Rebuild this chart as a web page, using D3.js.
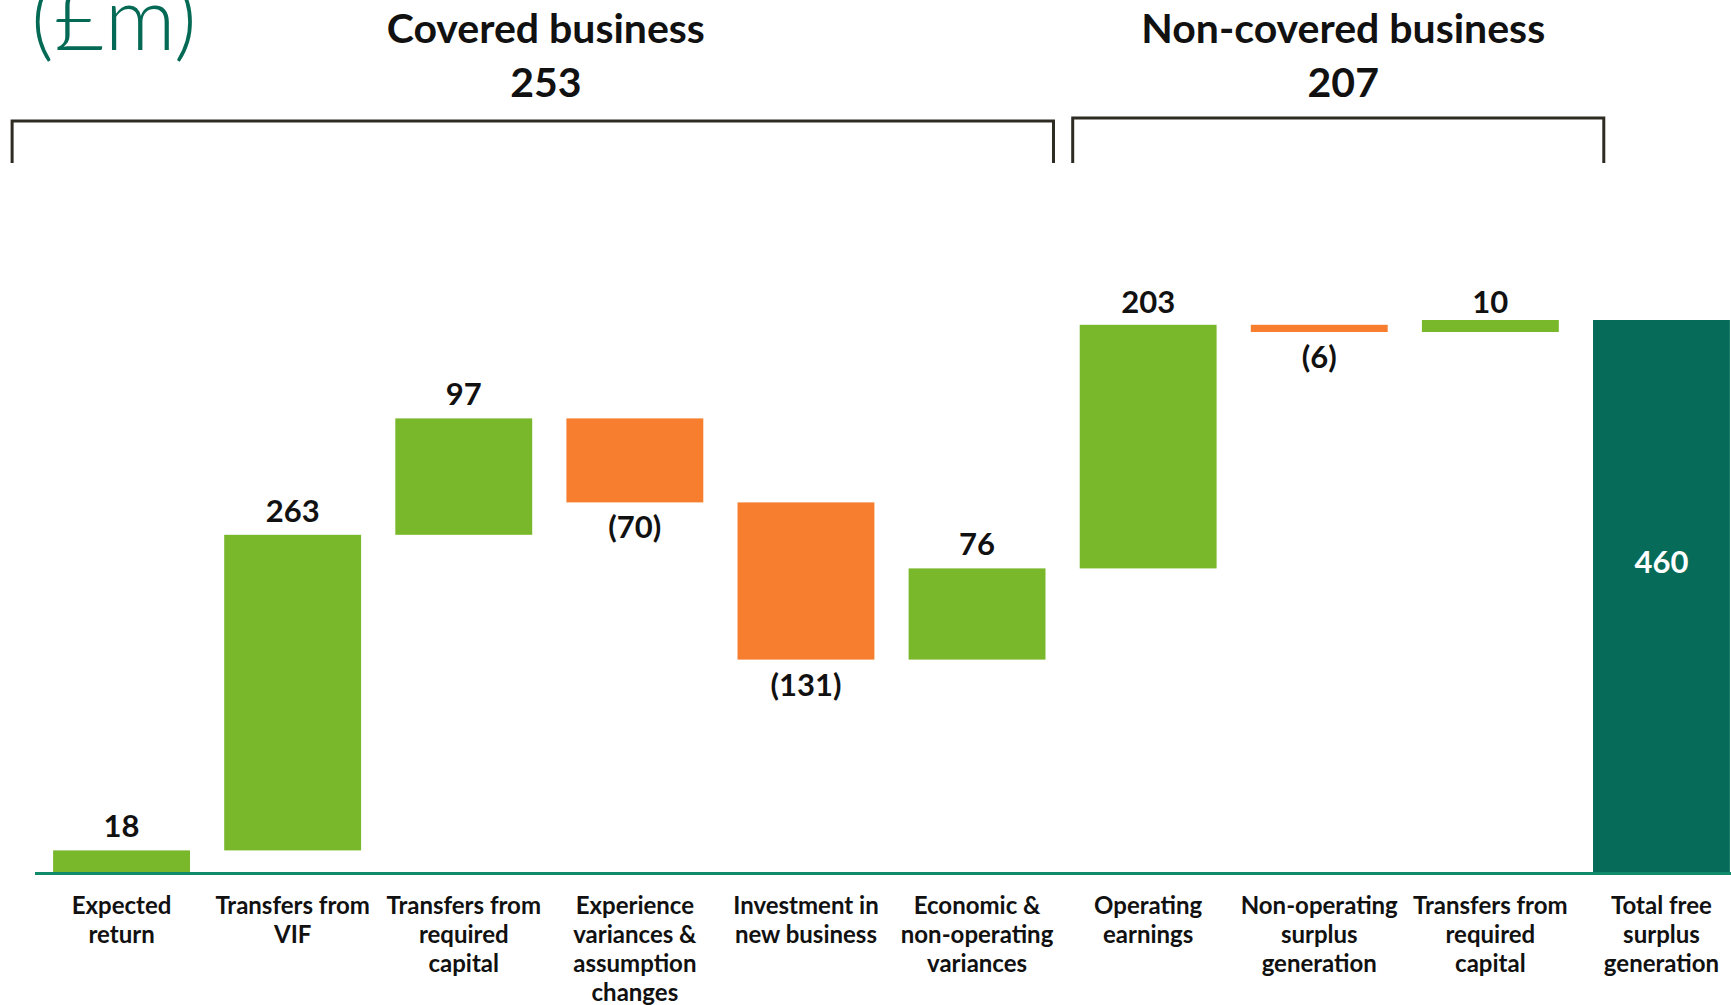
<!DOCTYPE html>
<html>
<head>
<meta charset="utf-8">
<script src="https://cdn.jsdelivr.net/npm/d3@7"></script>
<style>
body { margin: 0; background: #fff; overflow: hidden; }
text { font-family: Lato, 'Open Sans', sans-serif; }
</style>
</head>
<body>
<div id="chart"></div>
<script>
// waterfall of free surplus generation
var categories = ['er', 'vif', 'rc1', 'exp', 'inv', 'eco', 'op', 'nonop', 'rc2', 'total'];
var cat_lines = [
	['Expected', 'return'],
	['Transfers from', 'VIF'],
	['Transfers from', 'required', 'capital'],
	['Experience', 'variances &', 'assumption', 'changes'],
	['Investment in', 'new business'],
	['Economic &', 'non-operating', 'variances'],
	['Operating', 'earnings'],
	['Non-operating', 'surplus', 'generation'],
	['Transfers from', 'required', 'capital'],
	['Total free', 'surplus', 'generation']
];
var values = [18, 263, 97, -70, -131, 76, 203, -6, 10, 460];
var is_total = [false, false, false, false, false, false, false, false, false, true];
var value_labels = ['18', '263', '97', '(70)', '(131)', '76', '203', '(6)', '10', '460'];

var group_names = ['Covered business', 'Non-covered business'];
var group_totals = ['253', '207'];
var group_first = [0, 6];
var group_last = [5, 8];

var fmt = {
	width: 1731,
	height: 1005,
	base_y: 872,
	top_y: 320,
	clr_up: '#79b72b',
	clr_down: '#f77e2e',
	clr_total: '#066b58',
	clr_axis: '#11896b',
	clr_unit: '#046a55',
	clr_bracket: '#2d2b22',
	clr_text: '#111'
};

var svg = d3.select('#chart').append('svg')
	.attr('width', fmt.width)
	.attr('height', fmt.height);

var xScale = d3.scaleBand()
	.domain(categories)
	.range([36, 1747])
	.paddingInner(0.2)
	.paddingOuter(0.1);
var yScale = d3.scaleLinear()
	.domain([0, 460])
	.range([fmt.base_y, fmt.top_y]);

// running totals -> floating bars
var run = 0;
var steps = values.map(function(v, i) {
	var s;
	if (is_total[i]) {
		s = {lo: 0, hi: v, v: v};
	}
	else {
		s = {lo: Math.min(run, run + v), hi: Math.max(run, run + v), v: v};
		run += v;
	}
	s.cat = categories[i];
	s.i = i;
	return s;
});

svg.selectAll('rect.bar')
	.data(steps)
	.enter().append('rect')
	.attr('class', 'bar')
	.attr('x', function(d) { return xScale(d.cat); })
	.attr('width', xScale.bandwidth())
	.attr('y', function(d) { return yScale(d.hi); })
	.attr('height', function(d) { return yScale(d.lo) - yScale(d.hi); })
	.attr('fill', function(d) {
		if (is_total[d.i]) return fmt.clr_total;
		return d.v < 0 ? fmt.clr_down : fmt.clr_up;
	});

// baseline
svg.append('line')
	.attr('x1', 35).attr('x2', fmt.width)
	.attr('y1', fmt.base_y + 1.5).attr('y2', fmt.base_y + 1.5)
	.attr('stroke', fmt.clr_axis)
	.attr('stroke-width', 3);

// value labels
svg.selectAll('text.val')
	.data(steps)
	.enter().append('text')
	.attr('class', 'val')
	.attr('x', function(d) { return xScale(d.cat) + xScale.bandwidth() / 2; })
	.attr('y', function(d) {
		if (is_total[d.i]) return (yScale(d.lo) + yScale(d.hi)) / 2 - 23;
		if (d.v < 0) return yScale(d.lo) + 36;
		return Math.max(yScale(d.hi) - 13, 313);
	})
	.attr('text-anchor', 'middle')
	.attr('font-size', 31)
	.attr('font-weight', 700)
	.attr('fill', function(d) { return is_total[d.i] ? '#fff' : fmt.clr_text; })
	.text(function(d) { return value_labels[d.i]; });

// category labels
var cat_g = svg.selectAll('text.cat')
	.data(categories)
	.enter().append('text')
	.attr('class', 'cat')
	.attr('text-anchor', 'middle')
	.attr('font-size', 24)
	.attr('font-weight', 700)
	.attr('fill', fmt.clr_text)
	.attr('transform', function(d) { return `translate(${xScale(d) + xScale.bandwidth() / 2},914)`; });
cat_g.selectAll('tspan')
	.data(function(d, i) { return cat_lines[i]; })
	.enter().append('tspan')
	.attr('x', 0)
	.attr('y', function(d, j) { return j * 29; })
	.text(function(d) { return d; });

// group brackets and headers
var br_pad = [[-41, 8], [-7, 45]];
var br_top = [121, 118];
group_names.forEach(function(name, g) {
	var x1 = xScale(categories[group_first[g]]) + br_pad[g][0];
	var x2 = xScale(categories[group_last[g]]) + xScale.bandwidth() + br_pad[g][1];
	svg.append('path')
		.attr('d', `M${x1},163 V${br_top[g]} H${x2} V163`)
		.attr('fill', 'none')
		.attr('stroke', fmt.clr_bracket)
		.attr('stroke-width', 3);
	var cx = (x1 + x2) / 2 + (g == 0 ? 13 : 5);
	svg.append('text')
		.attr('x', cx).attr('y', 43)
		.attr('text-anchor', 'middle')
		.attr('font-size', 41)
		.attr('font-weight', 700)
		.attr('fill', fmt.clr_text)
		.text(name);
	svg.append('text')
		.attr('x', cx).attr('y', 97)
		.attr('text-anchor', 'middle')
		.attr('font-size', 41)
		.attr('font-weight', 700)
		.attr('fill', fmt.clr_text)
		.text(group_totals[g]);
});

// unit
svg.append('text')
	.attr('x', 31).attr('y', 50)
	.attr('font-size', 88)
	.attr('font-weight', 300)
	.attr('fill', fmt.clr_unit)
	.text('(£m)');
</script>
</body>
</html>
